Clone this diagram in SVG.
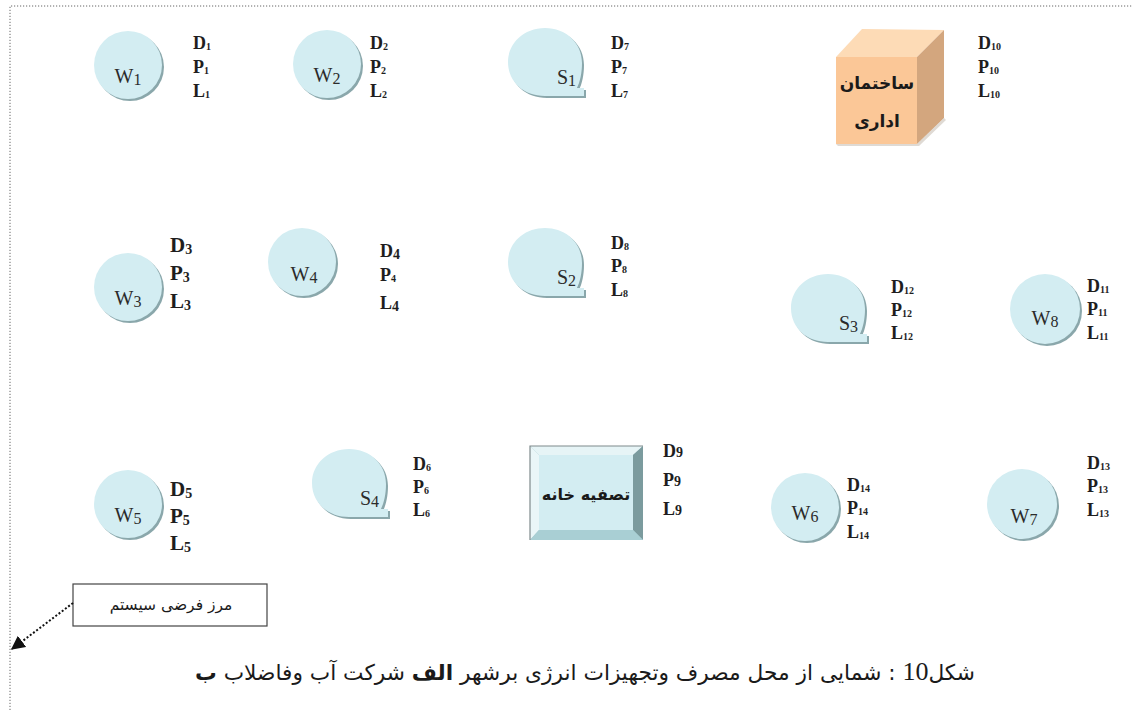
<svg xmlns="http://www.w3.org/2000/svg" width="1133" height="710" viewBox="0 0 1133 710">
<defs>
<style>
.bg{fill:#ffffff}
.border{fill:none;stroke:#666;stroke-width:1;stroke-dasharray:1.2 1.8}
.csh{fill:#8aa7ab}
.cf{fill:#d3edf2}
.wl{font-family:"Liberation Serif","Times New Roman",serif;font-size:20px;fill:#2b2b2b;text-anchor:middle}
.wl .s{font-size:16px}
.sl{font-family:"Liberation Serif","Times New Roman",serif;font-size:20px;fill:#2b2b2b;text-anchor:end}
.sl .s{font-size:16px}
.lb{font-family:"Liberation Serif","Times New Roman",serif;font-size:18px;font-weight:bold;fill:#1e1e1e}
.lb .s{font-size:10px}
.lb .m{font-size:14px}
.lg{font-family:"Liberation Serif","Times New Roman",serif;font-size:21px;font-weight:bold;fill:#1e1e1e}
.lg .s{font-size:14px}
.fa{font-family:"DejaVu Sans","Noto Sans",sans-serif;fill:#1a1a1a}
</style>
<path id="bub" d="M76,68 L76,60 L69,60 C72,54 74,45 74,35 C74,15 58,0 37,0 C16,0 0,15 0,34 C0,54 16,68 37,68 Z"/>
<marker id="ah" viewBox="0 0 10 10" refX="9" refY="5" markerWidth="14" markerHeight="14" markerUnits="userSpaceOnUse" orient="auto">
<path d="M0,0 L10,5 L0,10 Z" fill="#111"/>
</marker>
</defs>
<rect class="bg" x="0" y="0" width="1133" height="710"/>
<path class="border" d="M10,710 L10,6 L1133,6"/>

<g id="W1"><circle class="csh" cx="130" cy="67" r="34"/><circle class="cf" cx="128" cy="65" r="34"/><text class="wl" x="128" y="83">W<tspan class="s" dy="2">1</tspan></text></g>
<g id="W2"><circle class="csh" cx="329" cy="66" r="34"/><circle class="cf" cx="327" cy="64" r="34"/><text class="wl" x="327" y="82">W<tspan class="s" dy="2">2</tspan></text></g>
<g id="W3"><circle class="csh" cx="130" cy="289" r="34"/><circle class="cf" cx="128" cy="287" r="34"/><text class="wl" x="128" y="305">W<tspan class="s" dy="2">3</tspan></text></g>
<g id="W4"><circle class="csh" cx="304" cy="264" r="34"/><circle class="cf" cx="302" cy="262" r="34"/><text class="wl" x="304" y="281">W<tspan class="s" dy="2">4</tspan></text></g>
<g id="W5"><circle class="csh" cx="130" cy="506" r="34"/><circle class="cf" cx="128" cy="504" r="34"/><text class="wl" x="128" y="522">W<tspan class="s" dy="2">5</tspan></text></g>
<g id="W6"><circle class="csh" cx="807" cy="509" r="34"/><circle class="cf" cx="805" cy="507" r="34"/><text class="wl" x="805" y="520">W<tspan class="s" dy="2">6</tspan></text></g>
<g id="W7"><circle class="csh" cx="1024" cy="506" r="35"/><circle class="cf" cx="1022" cy="504" r="35"/><text class="wl" x="1024" y="523">W<tspan class="s" dy="2">7</tspan></text></g>
<g id="W8"><circle class="csh" cx="1047" cy="311" r="35"/><circle class="cf" cx="1045" cy="309" r="35"/><text class="wl" x="1045" y="325">W<tspan class="s" dy="2">8</tspan></text></g>

<g id="S1"><use href="#bub" x="510" y="30" class="csh"/><use href="#bub" x="508" y="28" class="cf"/><text class="sl" x="576" y="84">S<tspan class="s" dy="2">1</tspan></text></g>
<g id="S2"><use href="#bub" x="510" y="230" class="csh"/><use href="#bub" x="508" y="228" class="cf"/><text class="sl" x="576" y="284">S<tspan class="s" dy="2">2</tspan></text></g>
<g id="S3"><use href="#bub" x="793" y="276" class="csh"/><use href="#bub" x="791" y="274" class="cf"/><text class="sl" x="858" y="330">S<tspan class="s" dy="2">3</tspan></text></g>
<g id="S4"><use href="#bub" x="314" y="451" class="csh"/><use href="#bub" x="312" y="449" class="cf"/><text class="sl" x="379" y="505">S<tspan class="s" dy="2">4</tspan></text></g>

<g id="office">
<polygon points="836,57 862,29 944,30 917,57" fill="#fddbb6"/>
<polygon points="917,57 944,30 944,118 917,144" fill="#d3a67e"/>
<rect x="836" y="57" width="81" height="87" fill="#fbc797"/>
<polygon points="917,144 944,118 946,120 919,146 838,146 836,144" fill="#c9c1b8" opacity="0.6"/>
<text class="fa" x="877" y="89" font-size="17" font-weight="bold" text-anchor="middle">ساختمان</text>
<text class="fa" x="877" y="127" font-size="17" font-weight="bold" text-anchor="middle">اداری</text>
</g>

<g id="treatment">
<rect x="530" y="446" width="113" height="94" fill="#9fc6cb"/>
<polygon points="530,446 643,446 633,455 539,455" fill="#e6f4f6"/>
<polygon points="530,446 539,455 539,530 530,540" fill="#eaf6f8"/>
<polygon points="643,446 643,540 633,530 633,455" fill="#7b9b9e"/>
<polygon points="530,540 643,540 633,530 539,530" fill="#a9cfd4"/>
<rect x="539" y="455" width="94" height="75" fill="#d3edf2"/>
<path d="M530,540 L530,446 L643,446" fill="none" stroke="#7f8a8c" stroke-width="1.2"/>
<text class="fa" x="586" y="500" font-size="16" font-weight="bold" text-anchor="middle">تصفیه خانه</text>
</g>

<g id="labels">
<text class="lb" x="193" y="49">D<tspan class="s" dy="1">1</tspan></text>
<text class="lb" x="193" y="73">P<tspan class="s" dy="1">1</tspan></text>
<text class="lb" x="193" y="97">L<tspan class="s" dy="1">1</tspan></text>
<text class="lb" x="370" y="49">D<tspan class="s" dy="1">2</tspan></text>
<text class="lb" x="370" y="73">P<tspan class="s" dy="1">2</tspan></text>
<text class="lb" x="370" y="97">L<tspan class="s" dy="1">2</tspan></text>
<text class="lb" x="611" y="49">D<tspan class="s" dy="1">7</tspan></text>
<text class="lb" x="611" y="73">P<tspan class="s" dy="1">7</tspan></text>
<text class="lb" x="611" y="97">L<tspan class="s" dy="1">7</tspan></text>
<text class="lb" x="978" y="49">D<tspan class="s" dy="1">10</tspan></text>
<text class="lb" x="978" y="73">P<tspan class="s" dy="1">10</tspan></text>
<text class="lb" x="978" y="97">L<tspan class="s" dy="1">10</tspan></text>

<text class="lg" x="170" y="252">D<tspan class="s" dy="2">3</tspan></text>
<text class="lg" x="170" y="280">P<tspan class="s" dy="2">3</tspan></text>
<text class="lg" x="170" y="308">L<tspan class="s" dy="2">3</tspan></text>
<text class="lb" x="380" y="257">D<tspan class="m" dy="2">4</tspan></text>
<text class="lb" x="380" y="281">P<tspan class="s" dy="1">4</tspan></text>
<text class="lb" x="380" y="309">L<tspan class="m" dy="2">4</tspan></text>
<text class="lb" x="611" y="249">D<tspan class="s" dy="1">8</tspan></text>
<text class="lb" x="611" y="272">P<tspan class="s" dy="1">8</tspan></text>
<text class="lb" x="611" y="296">L<tspan class="s" dy="1">8</tspan></text>
<text class="lb" x="891" y="293">D<tspan class="s" dy="1">12</tspan></text>
<text class="lb" x="891" y="316">P<tspan class="s" dy="1">12</tspan></text>
<text class="lb" x="891" y="339">L<tspan class="s" dy="1">12</tspan></text>
<text class="lb" x="1087" y="292">D<tspan class="s" dy="1">11</tspan></text>
<text class="lb" x="1087" y="315">P<tspan class="s" dy="1">11</tspan></text>
<text class="lb" x="1087" y="339">L<tspan class="s" dy="1">11</tspan></text>

<text class="lg" x="170" y="496">D<tspan class="s" dy="2">5</tspan></text>
<text class="lg" x="170" y="523">P<tspan class="s" dy="2">5</tspan></text>
<text class="lg" x="170" y="550">L<tspan class="s" dy="2">5</tspan></text>
<text class="lb" x="413" y="470">D<tspan class="s" dy="1">6</tspan></text>
<text class="lb" x="413" y="493">P<tspan class="s" dy="1">6</tspan></text>
<text class="lb" x="413" y="516">L<tspan class="s" dy="1">6</tspan></text>
<text class="lb" x="663" y="457">D<tspan class="m">9</tspan></text>
<text class="lb" x="663" y="486">P<tspan class="m">9</tspan></text>
<text class="lb" x="663" y="515">L<tspan class="m">9</tspan></text>
<text class="lb" x="847" y="491">D<tspan class="s" dy="1">14</tspan></text>
<text class="lb" x="847" y="514">P<tspan class="s" dy="1">14</tspan></text>
<text class="lb" x="847" y="538">L<tspan class="s" dy="1">14</tspan></text>
<text class="lb" x="1087" y="469">D<tspan class="s" dy="1">13</tspan></text>
<text class="lb" x="1087" y="492">P<tspan class="s" dy="1">13</tspan></text>
<text class="lb" x="1087" y="516">L<tspan class="s" dy="1">13</tspan></text>
</g>

<g id="legend">
<rect x="73" y="584" width="194" height="42" fill="#fff" stroke="#444" stroke-width="1.2"/>
<text class="fa" x="171" y="610" font-size="15.5" text-anchor="middle">مرز فرضی سیستم</text>
</g>

<g id="connectors">
<path d="M73,603 L12,649" fill="none" stroke="#111" stroke-width="2" stroke-dasharray="2 2" marker-end="url(#ah)"/>
</g>

<g id="caption">
<text class="fa" x="585" y="680" font-size="21.7" text-anchor="middle" direction="rtl">شکل<tspan font-family="Liberation Serif, serif" font-size="26">10</tspan> : شمایی از محل مصرف وتجهیزات انرژی برشهر <tspan font-weight="bold">الف</tspan> شرکت آب وفاضلاب <tspan font-weight="bold">ب</tspan></text>
</g>
</svg>
